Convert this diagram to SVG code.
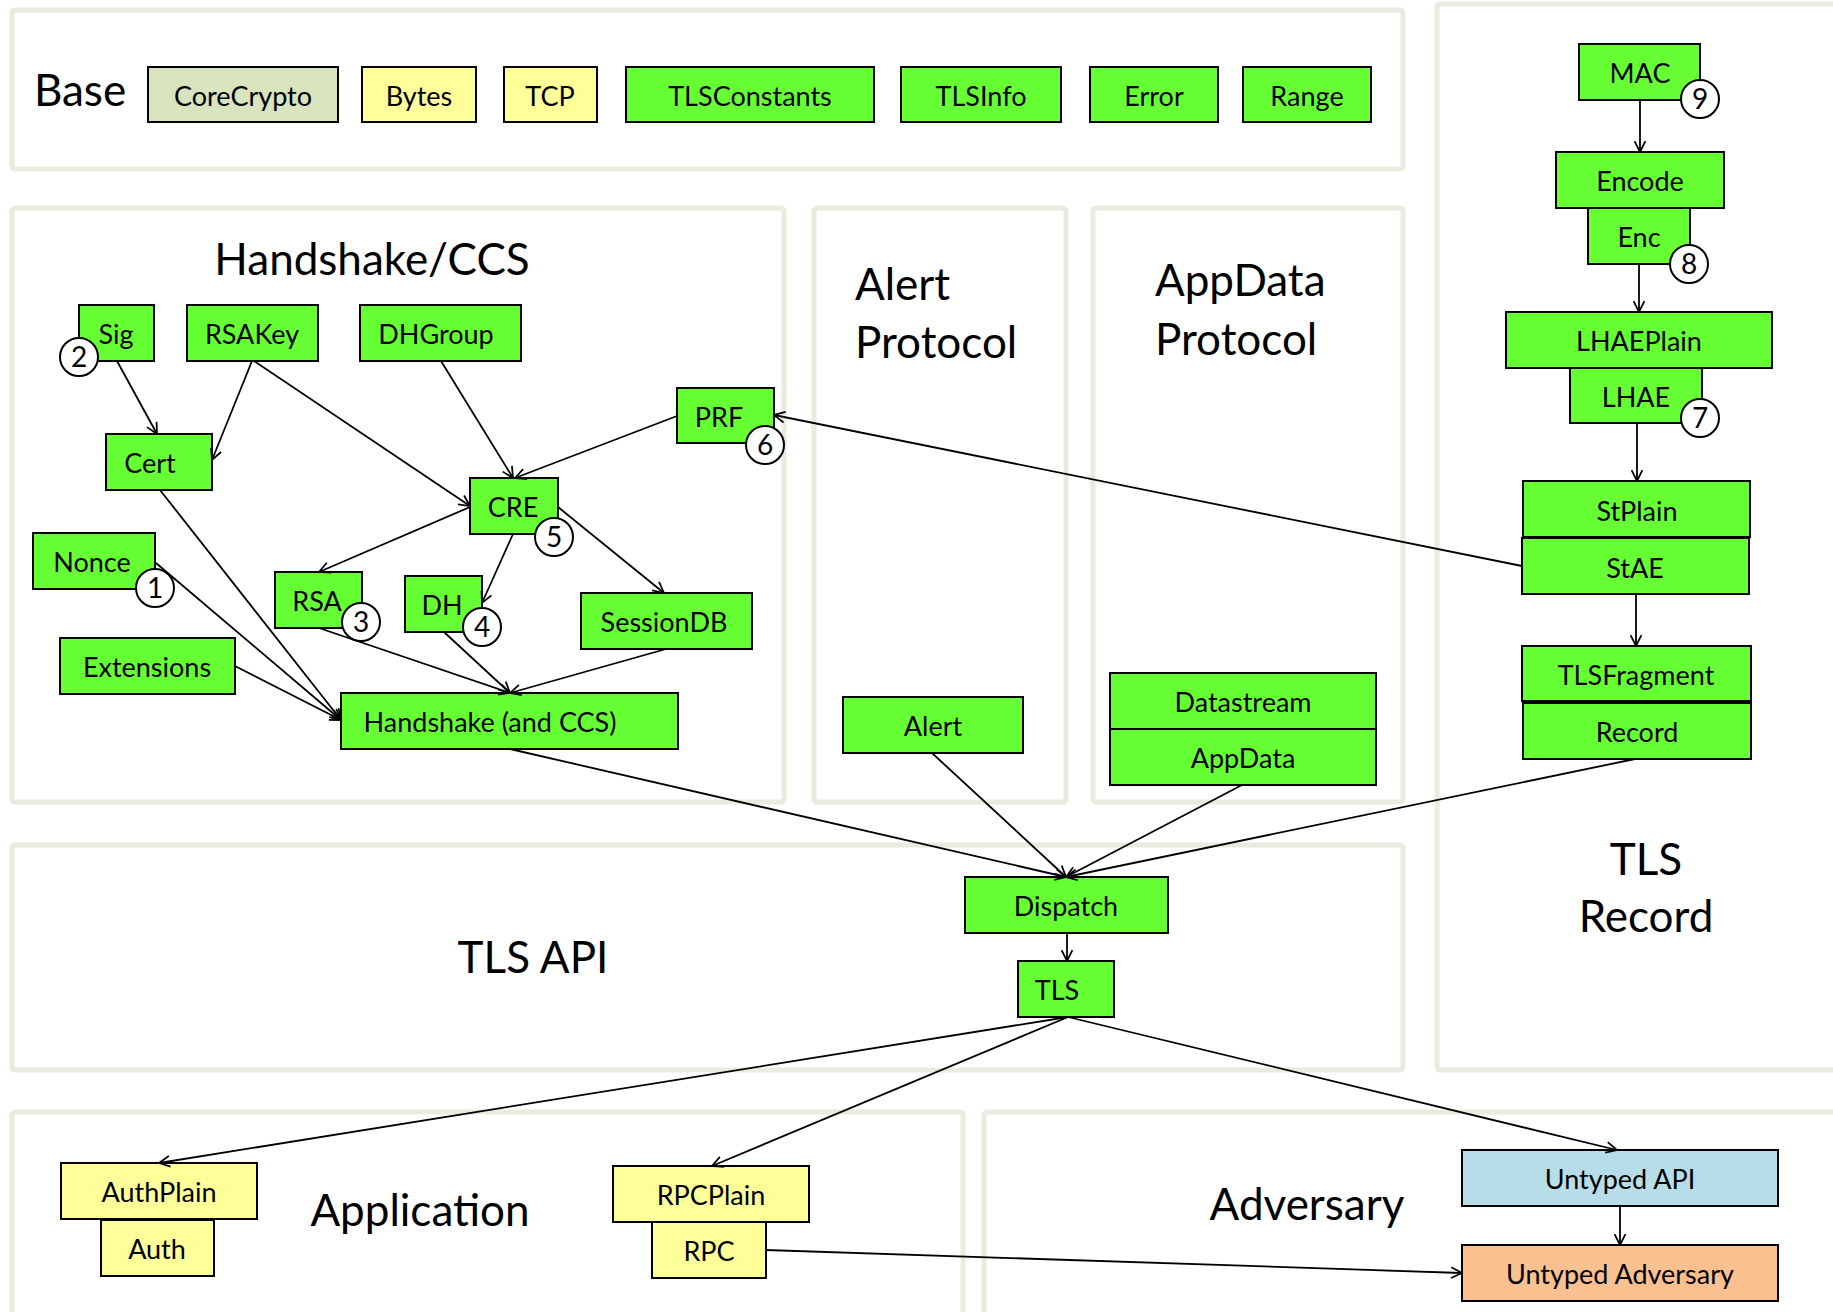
<svg xmlns="http://www.w3.org/2000/svg" width="1833" height="1312" viewBox="0 0 1833 1312">
  <style>
    .panel { fill: #ffffff; stroke: #ECEADF; stroke-width: 5; }
    .n { stroke: #000; stroke-width: 2; }
    .g { fill: #66FF33; }
    .y { fill: #FFFF99; }
    .c { fill: #D7E4BD; }
    .b { fill: #B7DEE8; }
    .o { fill: #FAC090; }
    .t { font-family: Lato, "Liberation Sans", sans-serif; font-size: 27px; fill: #000; text-anchor: middle; }
    .h { font-family: Lato, "Liberation Sans", sans-serif; font-size: 44px; fill: #000; }
    .mid { text-anchor: middle; }
    .badge { fill: #fff; stroke: #000; stroke-width: 2; }
    .bt { font-family: Lato, "Liberation Sans", sans-serif; font-size: 28px; fill: #000; text-anchor: middle; }
    .e { fill: none; stroke: #000; stroke-width: 1.8; marker-end: url(#arr); }
  </style>
  <defs>
    <marker id="arr" viewBox="0 0 12 12" refX="11" refY="6" markerWidth="13" markerHeight="13" orient="auto" markerUnits="userSpaceOnUse">
      <path d="M1,1 L11,6 L1,11" fill="none" stroke="#000" stroke-width="1.6"/>
    </marker>
  </defs>
  <rect width="1833" height="1312" fill="#ffffff"/>

  <!-- layer panels -->
  <g id="panels">
    <rect class="panel" x="12" y="10" width="1391" height="159" rx="3"/>
    <rect class="panel" x="12" y="208" width="772" height="594" rx="3"/>
    <rect class="panel" x="814" y="208" width="252" height="594" rx="3"/>
    <rect class="panel" x="1093" y="208" width="310" height="594" rx="3"/>
    <rect class="panel" x="1437" y="4" width="430" height="1066" rx="3"/>
    <rect class="panel" x="12" y="845" width="1391" height="225" rx="3"/>
    <rect class="panel" x="12" y="1112" width="951" height="230" rx="3"/>
    <rect class="panel" x="984" y="1112" width="900" height="230" rx="3"/>
  </g>

  <!-- layer titles -->
  <g id="titles">
    <text class="h mid" x="80" y="106">Base</text>
    <text class="h mid" x="372" y="275">Handshake/CCS</text>
    <text class="h" x="855" y="300">Alert</text>
    <text class="h" x="855" y="358">Protocol</text>
    <text class="h" x="1155" y="296">AppData</text>
    <text class="h" x="1155" y="355">Protocol</text>
    <text class="h mid" x="1646" y="875">TLS</text>
    <text class="h mid" x="1646" y="932">Record</text>
    <text class="h mid" x="533" y="973">TLS API</text>
    <text class="h mid" x="420" y="1226">Application</text>
    <text class="h mid" x="1307" y="1220">Adversary</text>
  </g>

  <!-- base modules -->
  <g id="CoreCrypto"><rect class="n c" x="148" y="67" width="190" height="55"/><text class="t" x="243" y="106">CoreCrypto</text></g>
  <g id="Bytes"><rect class="n y" x="362" y="67" width="114" height="55"/><text class="t" x="419" y="106">Bytes</text></g>
  <g id="TCP"><rect class="n y" x="504" y="67" width="93" height="55"/><text class="t" x="550" y="106">TCP</text></g>
  <g id="TLSConstants"><rect class="n g" x="626" y="67" width="248" height="55"/><text class="t" x="750" y="106">TLSConstants</text></g>
  <g id="TLSInfo"><rect class="n g" x="901" y="67" width="160" height="55"/><text class="t" x="981" y="106">TLSInfo</text></g>
  <g id="Error"><rect class="n g" x="1090" y="67" width="128" height="55"/><text class="t" x="1154" y="106">Error</text></g>
  <g id="Range"><rect class="n g" x="1243" y="67" width="128" height="55"/><text class="t" x="1307" y="106">Range</text></g>

  <!-- handshake modules -->
  <g id="Sig"><rect class="n g" x="79" y="305" width="75" height="56"/><text class="t" x="116" y="344">Sig</text>
    <circle class="badge" cx="79" cy="357" r="19"/><text class="bt" x="79" y="367">2</text></g>
  <g id="RSAKey"><rect class="n g" x="187" y="305" width="131" height="56"/><text class="t" x="252" y="344">RSAKey</text></g>
  <g id="DHGroup"><rect class="n g" x="360" y="305" width="161" height="56"/><text class="t" x="436" y="344">DHGroup</text></g>
  <g id="PRF"><rect class="n g" x="677" y="388" width="97" height="55"/><text class="t" x="719" y="427">PRF</text>
    <circle class="badge" cx="765" cy="445" r="19"/><text class="bt" x="765" y="455">6</text></g>
  <g id="Cert"><rect class="n g" x="106" y="434" width="106" height="56"/><text class="t" x="150" y="473">Cert</text></g>
  <g id="CRE"><rect class="n g" x="470" y="478" width="88" height="56"/><text class="t" x="513" y="517">CRE</text>
    <circle class="badge" cx="554" cy="537" r="19"/><text class="bt" x="554" y="547">5</text></g>
  <g id="Nonce"><rect class="n g" x="33" y="533" width="122" height="56"/><text class="t" x="92" y="572">Nonce</text>
    <circle class="badge" cx="155" cy="588" r="19"/><text class="bt" x="155" y="598">1</text></g>
  <g id="RSA"><rect class="n g" x="275" y="572" width="87" height="56"/><text class="t" x="317" y="611">RSA</text>
    <circle class="badge" cx="361" cy="622" r="19"/><text class="bt" x="361" y="632">3</text></g>
  <g id="DH"><rect class="n g" x="405" y="576" width="77" height="56"/><text class="t" x="442" y="615">DH</text>
    <circle class="badge" cx="482" cy="627" r="19"/><text class="bt" x="482" y="637">4</text></g>
  <g id="SessionDB"><rect class="n g" x="581" y="593" width="171" height="56"/><text class="t" x="664" y="632">SessionDB</text></g>
  <g id="Extensions"><rect class="n g" x="60" y="638" width="175" height="56"/><text class="t" x="147" y="677">Extensions</text></g>
  <g id="Handshake"><rect class="n g" x="341" y="693" width="337" height="56"/><text class="t" x="490" y="732">Handshake (and CCS)</text></g>

  <!-- alert and application data -->
  <g id="Alert"><rect class="n g" x="843" y="697" width="180" height="56"/><text class="t" x="933" y="736">Alert</text></g>
  <g id="Datastream"><rect class="n g" x="1110" y="673" width="266" height="56"/><text class="t" x="1243" y="712">Datastream</text></g>
  <g id="AppData"><rect class="n g" x="1110" y="729" width="266" height="56"/><text class="t" x="1243" y="768">AppData</text></g>

  <!-- record layer modules -->
  <g id="MAC"><rect class="n g" x="1579" y="44" width="121" height="56"/><text class="t" x="1640" y="83">MAC</text>
    <circle class="badge" cx="1700" cy="99" r="19"/><text class="bt" x="1700" y="109">9</text></g>
  <g id="Encode"><rect class="n g" x="1556" y="152" width="168" height="56"/><text class="t" x="1640" y="191">Encode</text></g>
  <g id="Enc"><rect class="n g" x="1588" y="208" width="102" height="56"/><text class="t" x="1639" y="247">Enc</text>
    <circle class="badge" cx="1689" cy="264" r="19"/><text class="bt" x="1689" y="274">8</text></g>
  <g id="LHAEPlain"><rect class="n g" x="1506" y="312" width="266" height="56"/><text class="t" x="1639" y="351">LHAEPlain</text></g>
  <g id="LHAE"><rect class="n g" x="1570" y="368" width="132" height="55"/><text class="t" x="1636" y="407">LHAE</text>
    <circle class="badge" cx="1700" cy="418" r="19"/><text class="bt" x="1700" y="428">7</text></g>
  <g id="StPlain"><rect class="n g" x="1523" y="481" width="227" height="56"/><text class="t" x="1637" y="521">StPlain</text></g>
  <g id="StAE"><rect class="n g" x="1522" y="538" width="227" height="56"/><text class="t" x="1635" y="578">StAE</text></g>
  <g id="TLSFragment"><rect class="n g" x="1522" y="646" width="229" height="55"/><text class="t" x="1636" y="685">TLSFragment</text></g>
  <g id="Record"><rect class="n g" x="1523" y="703" width="228" height="56"/><text class="t" x="1637" y="742">Record</text></g>

  <!-- API -->
  <g id="Dispatch"><rect class="n g" x="965" y="877" width="203" height="56"/><text class="t" x="1066" y="916">Dispatch</text></g>
  <g id="TLS"><rect class="n g" x="1018" y="961" width="96" height="56"/><text class="t" x="1057" y="1000">TLS</text></g>

  <!-- application -->
  <g id="AuthPlain"><rect class="n y" x="61" y="1163" width="196" height="56"/><text class="t" x="159" y="1202">AuthPlain</text></g>
  <g id="Auth"><rect class="n y" x="101" y="1220" width="113" height="56"/><text class="t" x="157" y="1259">Auth</text></g>
  <g id="RPCPlain"><rect class="n y" x="613" y="1166" width="196" height="56"/><text class="t" x="711" y="1205">RPCPlain</text></g>
  <g id="RPC"><rect class="n y" x="652" y="1222" width="114" height="56"/><text class="t" x="709" y="1261">RPC</text></g>

  <!-- adversary -->
  <g id="UntypedAPI"><rect class="n b" x="1462" y="1150" width="316" height="56"/><text class="t" x="1620" y="1189">Untyped API</text></g>
  <g id="UntypedAdversary"><rect class="n o" x="1462" y="1245" width="316" height="56"/><text class="t" x="1620" y="1284">Untyped Adversary</text></g>

  <!-- dependencies -->
  <g id="connectors">
    <line class="e" x1="117" y1="361" x2="157" y2="434"/>
    <line class="e" x1="252" y1="361" x2="212" y2="460"/>
    <line class="e" x1="254" y1="361" x2="470" y2="506"/>
    <line class="e" x1="441" y1="361" x2="513" y2="478"/>
    <line class="e" x1="677" y1="416" x2="515" y2="478"/>
    <line class="e" x1="470" y1="507" x2="319" y2="572"/>
    <line class="e" x1="513" y1="534" x2="482" y2="603"/>
    <line class="e" x1="558" y1="507" x2="664" y2="593"/>
    <line class="e" x1="156" y1="563" x2="341" y2="720"/>
    <line class="e" x1="160" y1="490" x2="341" y2="720"/>
    <line class="e" x1="235" y1="666" x2="341" y2="720"/>
    <line class="e" x1="319" y1="628" x2="510" y2="693"/>
    <line class="e" x1="444" y1="632" x2="510" y2="693"/>
    <line class="e" x1="666" y1="649" x2="510" y2="693"/>
    <line class="e" x1="1522" y1="566" x2="774" y2="415"/>
    <line class="e" x1="510" y1="749" x2="1066" y2="877"/>
    <line class="e" x1="932" y1="753" x2="1066" y2="877"/>
    <line class="e" x1="1242" y1="785" x2="1066" y2="877"/>
    <line class="e" x1="1635" y1="759" x2="1066" y2="877"/>
    <line class="e" x1="1067" y1="933" x2="1067" y2="961"/>
    <line class="e" x1="1068" y1="1017" x2="159" y2="1163"/>
    <line class="e" x1="1068" y1="1017" x2="712" y2="1166"/>
    <line class="e" x1="1068" y1="1017" x2="1617" y2="1150"/>
    <line class="e" x1="1620" y1="1206" x2="1620" y2="1245"/>
    <line class="e" x1="766" y1="1250" x2="1462" y2="1273"/>
    <line class="e" x1="1640" y1="100" x2="1640" y2="152"/>
    <line class="e" x1="1639" y1="264" x2="1639" y2="312"/>
    <line class="e" x1="1637" y1="423" x2="1637" y2="481"/>
    <line class="e" x1="1636" y1="594" x2="1636" y2="646"/>
  </g>
</svg>
